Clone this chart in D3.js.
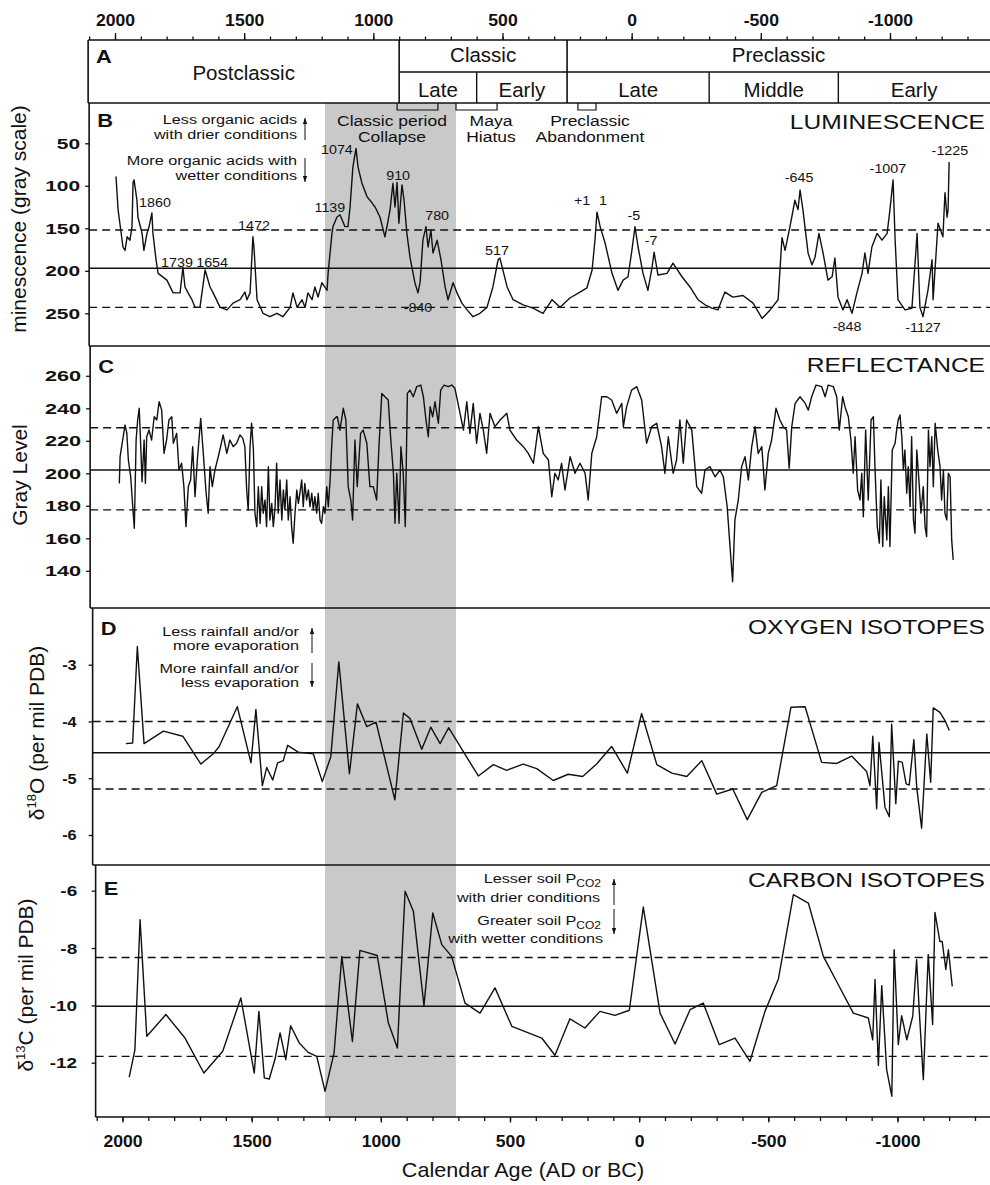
<!DOCTYPE html>
<html>
<head>
<meta charset="utf-8">
<script src="https://cdn.jsdelivr.net/npm/d3@7"></script>
<style>
body { margin: 0; background: #fff; }
svg { display: block; font-family: "Liberation Sans", Arial, sans-serif; }
text { fill: #111; }
</style>
</head>
<body>
<svg width="990" height="1185"></svg>
<script>
// ---- data: [year AD (negative = BC), value] ----
const luminescence = [[2000,89],[1992,128],[1973,172],[1965,176],[1957,160],[1946,164],[1938,148],[1934,96],[1930,93],[1919,117],[1915,137],[1899,156],[1892,176],[1880,156],[1872,148],[1861,132],[1857,156],[1845,187],[1837,203],[1803,211],[1779,226],[1752,226],[1741,196],[1733,219],[1721,226],[1706,234],[1694,243],[1675,243],[1655,199],[1636,219],[1624,226],[1597,243],[1570,246],[1547,238],[1520,234],[1501,225],[1493,234],[1481,226],[1470,160],[1466,172],[1454,234],[1431,250],[1404,254],[1377,250],[1354,254],[1326,243],[1315,226],[1299,243],[1280,234],[1268,243],[1257,226],[1241,234],[1230,219],[1218,231],[1203,214],[1183,223],[1179,203],[1164,156],[1160,148],[1145,137],[1133,134],[1114,148],[1102,148],[1094,125],[1083,78],[1071,56],[1063,78],[1048,97],[1028,113],[1009,120],[997,125],[978,137],[959,160],[951,148],[939,128],[928,97],[920,125],[912,96],[905,144],[893,99],[885,117],[874,156],[862,184],[843,214],[831,226],[823,214],[812,164],[800,148],[792,172],[781,152],[773,179],[757,164],[742,187],[726,219],[715,234],[695,214],[680,226],[661,238],[641,246],[618,254],[591,250],[564,243],[541,219],[521,187],[514,185],[486,219],[463,234],[424,240],[386,244],[347,250],[312,234],[281,243],[243,232],[204,225],[177,220],[157,199],[146,164],[138,131],[126,148],[107,167],[80,203],[57,223],[37,211],[18,207],[3,176],[-9,148],[-21,172],[-40,203],[-59,223],[-75,196],[-83,178],[-98,205],[-133,203],[-156,191],[-191,207],[-222,219],[-253,234],[-280,240],[-307,244],[-330,246],[-357,225],[-388,231],[-427,229],[-466,238],[-501,256],[-532,246],[-563,234],[-578,161],[-590,176],[-609,148],[-628,117],[-640,128],[-648,105],[-659,128],[-679,179],[-694,193],[-706,184],[-721,156],[-737,179],[-756,211],[-772,207],[-783,185],[-795,231],[-814,246],[-830,234],[-849,250],[-868,226],[-888,203],[-899,179],[-911,203],[-926,172],[-946,156],[-965,164],[-985,156],[-996,128],[-1008,93],[-1016,164],[-1027,234],[-1054,246],[-1081,244],[-1101,156],[-1112,243],[-1124,254],[-1143,223],[-1159,187],[-1163,234],[-1182,144],[-1201,160],[-1209,108],[-1217,137],[-1221,128],[-1225,72]]

const reflectance = [[1991,193.8],[1988,210.2],[1982,216.4],[1976,222.5],[1969,229.7],[1962,224.8],[1956,208.2],[1947,197.9],[1939,179.4],[1933,166.2],[1926,220.5],[1920,232.8],[1914,240],[1908,216.4],[1903,194.8],[1895,220.5],[1890,193.8],[1885,222.5],[1876,226.6],[1866,220.5],[1856,234.8],[1846,232.8],[1837,244],[1827,238.9],[1818,212.3],[1808,220.5],[1799,232.8],[1788,234.8],[1782,218.5],[1769,224.6],[1760,202],[1750,206.2],[1741,191.8],[1733,167.2],[1724,191.8],[1715,195.9],[1707,216.4],[1698,185.6],[1689,208.2],[1676,233.8],[1666,212.3],[1655,187.7],[1647,175.4],[1640,204.1],[1631,191.8],[1621,202],[1608,210.2],[1599,216.4],[1589,223.6],[1575,212.3],[1563,220.5],[1550,216.4],[1537,218.5],[1524,223.6],[1513,221.5],[1505,216.4],[1498,189.7],[1492,177.4],[1485,216.4],[1479,230.8],[1472,214.3],[1466,175.4],[1459,167.2],[1453,191.8],[1446,169.2],[1440,191.8],[1434,175.4],[1427,183.6],[1421,167.2],[1414,204.1],[1408,171.3],[1401,181.5],[1395,167.2],[1388,179.5],[1382,206.2],[1376,175.4],[1369,195.9],[1362,171.3],[1356,189.7],[1350,177.4],[1343,195.9],[1337,171.3],[1330,185.6],[1324,167.2],[1318,157],[1311,175.4],[1304,189.7],[1298,181.5],[1292,187.7],[1285,195.9],[1279,179.5],[1273,193.8],[1266,183.6],[1259,189.7],[1253,179.5],[1246,187.7],[1240,177.4],[1234,185.6],[1227,175.4],[1221,187.7],[1214,171.3],[1208,169.2],[1201,179.5],[1195,175.4],[1188,191.8],[1182,179.5],[1175,195.9],[1169,216.4],[1163,232.8],[1150,234.8],[1147,234.8],[1137,226.6],[1124,240],[1114,232.8],[1105,191.8],[1095,183.6],[1088,171.3],[1079,220.5],[1070,191.8],[1057,224.6],[1047,226.6],[1033,218.5],[1021,191.8],[1008,191.8],[995,183.6],[986,216.4],[975,249.2],[963,247.1],[950,245.1],[941,222.5],[930,200],[924,169.2],[917,200],[908,169.2],[901,216.4],[892,200],[884,167.2],[876,249.2],[866,251.2],[853,247.1],[840,253.3],[824,254.3],[814,247.1],[804,232.8],[795,222.5],[788,241],[778,234.8],[769,244],[756,230.8],[747,251.2],[734,254.3],[718,253.3],[704,254.3],[692,252.3],[672,236.9],[659,226.6],[646,244],[634,224.6],[621,243],[608,218.5],[595,236.9],[582,226.6],[569,212.3],[556,236.9],[537,228.7],[517,232.8],[491,236.9],[479,226.6],[453,220.5],[427,216.4],[408,212.3],[388,206.2],[369,228.7],[350,212.3],[330,208.2],[317,185.6],[305,200],[292,195.9],[279,206.2],[266,189.7],[246,210.2],[227,200],[208,206.2],[188,200],[176,183.6],[162,212.3],[143,222.5],[124,247.1],[104,247.1],[85,245.1],[66,236.9],[46,243],[40,228.7],[27,241],[8,251.2],[-12,253.3],[-31,245.1],[-50,218.5],[-70,228.7],[-89,230.8],[-108,216.4],[-121,200],[-134,222.5],[-153,200],[-166,208.2],[-179,232.8],[-192,206.2],[-205,232.8],[-225,226.6],[-244,191.8],[-263,187.7],[-276,202],[-295,204.1],[-315,197.9],[-334,202],[-347,197.9],[-362,179.4],[-373,154.9],[-383,133.3],[-392,171.3],[-405,183.6],[-418,204.1],[-431,210.2],[-444,195.9],[-457,216.4],[-470,228.7],[-482,212.3],[-496,216.4],[-508,189.7],[-521,212.3],[-534,220.5],[-551,240],[-566,232.8],[-579,228.7],[-592,226.6],[-602,203.2],[-612,228.7],[-625,243],[-644,247.1],[-664,243],[-676,238.9],[-689,247.1],[-706,254.3],[-728,253.3],[-741,247.1],[-753,254.3],[-773,253.3],[-786,247.1],[-796,226.6],[-809,247.1],[-818,241],[-831,234.8],[-841,220.5],[-850,200],[-857,222.5],[-867,189.7],[-876,183.6],[-883,200],[-889,173.3],[-898,226.6],[-908,183.6],[-919,232.8],[-928,234.8],[-934,204.1],[-943,167.2],[-951,157],[-957,195.9],[-964,154.9],[-970,185.6],[-980,159],[-986,191.8],[-992,154.9],[-1001,214.3],[-1012,218.5],[-1018,226.6],[-1024,232.8],[-1031,235.9],[-1038,222.5],[-1044,202],[-1050,214.3],[-1057,187.7],[-1063,204.1],[-1070,179.5],[-1076,222.5],[-1083,171.3],[-1089,163.1],[-1096,214.3],[-1105,193.8],[-1112,175.4],[-1121,191.8],[-1128,167.2],[-1134,161],[-1141,226.6],[-1147,204.1],[-1154,222.5],[-1160,191.8],[-1167,230.8],[-1177,214.3],[-1186,204.1],[-1192,183.6],[-1199,202],[-1205,175.4],[-1212,171.3],[-1218,200],[-1225,197.9],[-1231,159],[-1237,146.7]]

const oxygen = [[1975,-4.39],[1949,-4.38],[1931,-2.68],[1905,-4.39],[1830,-4.17],[1755,-4.26],[1685,-4.75],[1637,-4.57],[1614,-4.44],[1544,-3.74],[1491,-4.73],[1472,-3.79],[1447,-5.13],[1430,-4.81],[1407,-5.03],[1388,-4.73],[1366,-4.69],[1349,-4.42],[1308,-4.54],[1250,-4.57],[1215,-5.06],[1182,-4.62],[1151,-2.95],[1110,-4.92],[1079,-3.69],[1043,-4.09],[1007,-4.01],[934,-5.38],[901,-3.85],[875,-3.95],[830,-4.49],[795,-4.10],[759,-4.39],[726,-4.11],[611,-4.96],[553,-4.76],[501,-4.86],[437,-4.75],[385,-4.83],[321,-5.04],[263,-4.93],[207,-4.97],[153,-4.75],[95,-4.44],[34,-4.91],[-21,-3.86],[-80,-4.76],[-138,-4.91],[-196,-4.97],[-254,-4.69],[-312,-5.28],[-374,-5.19],[-430,-5.73],[-486,-5.25],[-544,-5.13],[-599,-3.75],[-654,-3.74],[-718,-4.72],[-776,-4.74],[-834,-4.61],[-892,-4.88],[-905,-5.13],[-916,-4.26],[-931,-5.54],[-940,-4.37],[-963,-5.51],[-980,-5.68],[-989,-4.05],[-1005,-5.45],[-1015,-4.70],[-1030,-4.72],[-1045,-5.10],[-1057,-5.12],[-1075,-4.32],[-1086,-5.16],[-1105,-5.88],[-1125,-4.22],[-1140,-5.07],[-1150,-3.76],[-1176,-3.84],[-1195,-3.98],[-1212,-4.16]]

const carbon = [[1974,-12.50],[1952,-11.55],[1932,-7.01],[1906,-11.08],[1832,-10.32],[1758,-11.14],[1685,-12.36],[1612,-11.60],[1542,-9.74],[1490,-12.36],[1472,-10.21],[1451,-12.53],[1432,-12.57],[1410,-11.89],[1390,-10.96],[1368,-11.89],[1349,-10.71],[1316,-11.31],[1281,-11.64],[1248,-11.78],[1216,-13.00],[1181,-11.66],[1151,-8.29],[1110,-11.26],[1081,-8.08],[1014,-8.26],[971,-10.61],[936,-11.49],[906,-6.02],[874,-6.72],[833,-10.01],[799,-6.78],[764,-7.88],[726,-8.29],[674,-9.92],[616,-10.27],[558,-9.39],[493,-10.73],[377,-11.14],[326,-11.74],[268,-10.47],[210,-10.79],[152,-10.21],[94,-10.35],[38,-10.17],[-16,-6.57],[-81,-10.27],[-139,-11.35],[-197,-10.15],[-248,-9.92],[-310,-11.37],[-371,-11.14],[-429,-11.95],[-487,-10.21],[-539,-9.08],[-597,-6.14],[-655,-6.43],[-713,-8.29],[-771,-9.28],[-829,-10.27],[-887,-10.44],[-904,-11.20],[-913,-9.10],[-926,-12.10],[-939,-9.31],[-958,-12.24],[-978,-13.17],[-987,-8.06],[-1003,-11.37],[-1016,-10.36],[-1036,-11.20],[-1059,-10.38],[-1074,-8.41],[-1084,-10.15],[-1100,-12.59],[-1119,-8.23],[-1136,-10.67],[-1145,-6.76],[-1164,-7.77],[-1173,-7.77],[-1187,-8.75],[-1197,-8.06],[-1212,-9.34]]

// mean (solid) and mean +/- 1 sd (dashed)
const lumRefs = [197, 152, 243]
const reflRefs = [202, 228, 177.5]
const oxyRefs = [-4.55, -4.0, -5.19]
const carbRefs = [-10.03, -8.33, -11.78]

const lumTicks = [50, 100, 150, 200, 250]
const reflTicks = [260, 240, 220, 200, 180, 160, 140]
const oxyTicks = [-3, -4, -5, -6]
const carbTicks = [-6, -8, -10, -12]
const ageTicks = [2000, 1500, 1000, 500, 0, -500, -1000]
const ageMinor = d3.range(2100, -1400, -100)

const periodsUpper = [["Postclassic", 2104, 900], ["Classic", 900, 250], ["Preclassic", 250, -1387]]
const periodsLower = [["Late", 900, 600], ["Early", 600, 250], ["Late", 250, -300], ["Middle", -300, -800], ["Early", -800, -1387]]
const events = [[908, 750], [680, 521], [208, 138]]
const collapseBand = [1187, 680]

const peakLabels = [["1860",1849,125],["1739",1764,195.5],["1654",1628,195.5],["1472",1466,152],["1139",1172,131],["1074",1145,62.6],["910",908,93],["780",757,140],["-840",831,248.5],["517",525,181],["+1",196,122.6],["1",115,122.6],["-5",-5,140],["-7",-71,169.6],["-645",-644,95.5],["-1007",-988,85],["-1225",-1228,63.8],["-848",-830,271],["-1127",-1124,272]]

// ---- layout ----
const svg = d3.select("svg")
const W = 990
const xAt = off => d3.scaleLinear().domain([2000, -1000]).range([115 + off, 890 + off])
const xTop = xAt(0)
const leftYear = 2104

const label = (g, x, y, str, o = {}) => g.append("text")
    .attr("transform", "translate(" + x + "," + y + ") scale(" + (o.sx || 1) + ",1)")
    .attr("text-anchor", o.anchor || "start")
    .style("font-size", (o.size || 14) + "px")
    .style("font-weight", o.bold ? "bold" : "normal")
    .text(str)

const panels = [
    {letter: "B", off: 1, top: 103, bottom: 346, y: d3.scaleLinear().domain([50, 250]).range([143.3, 313.3]),
     ticks: lumTicks, gap: 9, sx: 1.35, data: luminescence, refs: lumRefs, title: "LUMINESCENCE", titleY: 129, letterY: 127},
    {letter: "C", off: 2, top: 346, bottom: 608, y: d3.scaleLinear().domain([260, 140]).range([375.8, 570.8]),
     ticks: reflTicks, gap: 9, sx: 1.4, data: reflectance, refs: reflRefs, title: "REFLECTANCE", titleY: 372, letterY: 373},
    {letter: "D", off: 4.5, top: 608, bottom: 865, y: d3.scaleLinear().domain([-3, -6]).range([664.7, 835]),
     ticks: oxyTicks, gap: 16, sx: 1.05, data: oxygen, refs: oxyRefs, title: "OXYGEN ISOTOPES", titleY: 634, letterY: 635},
    {letter: "E", off: 7.5, top: 865, bottom: 1117, y: d3.scaleLinear().domain([-6, -12]).range([890.7, 1062.7]),
     ticks: carbTicks, gap: 18.5, sx: 1.22, data: carbon, refs: carbRefs, title: "CARBON ISOTOPES", titleY: 887, letterY: 895}
]

// shaded collapse band
svg.append("rect")
    .attr("x", xTop(collapseBand[0]))
    .attr("width", xTop(collapseBand[1]) - xTop(collapseBand[0]))
    .attr("y", 103).attr("height", 1117 - 103)
    .attr("fill", "#c9c9c9")

// ---- top axis + panel A ----
const line = (x1, y1, x2, y2, w = 1.4, dash = null) => svg.append("line")
    .attr("x1", x1).attr("y1", y1).attr("x2", x2).attr("y2", y2)
    .attr("stroke", "#111").attr("stroke-width", w).attr("stroke-dasharray", dash)

const topMinor = svg.append("g").attr("transform", "translate(0,40)")
    .call(d3.axisTop(xTop).tickValues(ageMinor).tickSize(3.5).tickFormat(""))
const topMajor = svg.append("g").attr("transform", "translate(0,40)")
    .call(d3.axisTop(xTop).tickValues(ageTicks).tickSize(7).tickFormat(d => String(d)))
;[topMinor, topMajor].forEach(g => {
    g.select(".domain").remove()
    g.selectAll("line").attr("stroke", "#111").attr("stroke-width", 1.3)
})
topMajor.selectAll("text").attr("y", -14).attr("dy", null)
    .attr("transform", "scale(1.1,1)")
    .style("font-size", "16px").style("font-weight", "bold").attr("fill", "#111")

line(xTop(leftYear), 40, W, 40, 1.6)
line(xTop(leftYear), 103, W, 103, 1.6)
line(xTop(900), 72, W, 72, 1.4)
line(xTop(leftYear), 40, xTop(leftYear), 103, 1.6)

periodsUpper.forEach(([name, a, b], i) => {
    if (i > 0) line(xTop(a), 40, xTop(a), 103, 1.6)
    const cy = i === 0 ? 80 : 62
    label(svg, (xTop(a) + xTop(b)) / 2, cy, name, {anchor: "middle", size: 20.5})
})
periodsLower.forEach(([name, a, b], i) => {
    if (i !== 0 && i !== 2) line(xTop(a), 72, xTop(a), 103, 1.4)
    label(svg, (xTop(a) + xTop(b)) / 2, 97, name, {anchor: "middle", size: 20.5})
})
label(svg, 96, 63, "A", {size: 19, bold: true, sx: 1.15})

events.forEach(([a, b]) => {
    svg.append("path")
        .attr("d", "M" + xTop(a) + ",103V110H" + xTop(b) + "V103")
        .attr("fill", "none").attr("stroke", "#111").attr("stroke-width", 1.2)
})

// ---- data panels ----
panels.forEach(p => {
    const x = xAt(p.off)
    const left = x(leftYear)
    line(left, p.top, left, p.bottom, 1.6)
    line(left, p.bottom, W, p.bottom, 1.6)

    p.refs.forEach((v, i) => line(left, p.y(v), W, p.y(v), 1.4, i === 0 ? null : "8,5"))

    svg.append("path")
        .datum(p.data)
        .attr("d", d3.line().x(d => x(d[0])).y(d => p.y(d[1])))
        .attr("fill", "none").attr("stroke", "#111").attr("stroke-width", 1.4)
        .attr("stroke-linejoin", "round")

    const ax = svg.append("g").attr("transform", "translate(" + left + ",0)")
        .call(d3.axisLeft(p.y).tickValues(p.ticks).tickSize(4).tickFormat(d => String(d)))
    ax.select(".domain").remove()
    ax.selectAll("line").attr("stroke", "#111").attr("stroke-width", 1.3)
    ax.selectAll("text").attr("x", -p.gap / p.sx)
        .attr("transform", "scale(" + p.sx + ",1)")
        .style("font-size", "15.5px").style("font-weight", "bold").attr("fill", "#111")

    label(svg, left + 8, p.letterY, p.letter, {size: 19, bold: true, sx: 1.15})
    label(svg, 985, p.titleY, p.title, {anchor: "end", size: 21, sx: 1.17})
})

// ---- bottom axis ----
const xE = xAt(7.5)
const botMinor = svg.append("g").attr("transform", "translate(0,1117)")
    .call(d3.axisBottom(xE).tickValues(ageMinor).tickSize(4).tickFormat(""))
const botMajor = svg.append("g").attr("transform", "translate(0,1117)")
    .call(d3.axisBottom(xE).tickValues(ageTicks).tickSize(5.5).tickFormat(d => String(d)))
;[botMinor, botMajor].forEach(g => {
    g.select(".domain").remove()
    g.selectAll("line").attr("stroke", "#111").attr("stroke-width", 1.3)
})
botMajor.selectAll("text").attr("y", 30).attr("dy", null)
    .attr("transform", "scale(1.1,1)")
    .style("font-size", "16px").style("font-weight", "bold").attr("fill", "#111")
label(svg, 523, 1177, "Calendar Age (AD or BC)", {anchor: "middle", size: 20, sx: 1.08})

// ---- peak labels in B ----
const xB = xAt(1), yB = panels[0].y
peakLabels.forEach(([t, yr, v]) => label(svg, xB(yr), yB(v), t, {anchor: "middle", size: 13, sx: 1.1}))

// ---- annotations ----
const lines = (x, ys, strs, o) => strs.forEach((s, i) => label(svg, x, ys[i], s, o))
const ann = {anchor: "end", size: 13.5, sx: 1.2}
lines(297, [124, 139, 165, 180], ["Less organic acids", "with drier conditions", "More organic acids with", "wetter conditions"], ann)
lines(299, [636, 650, 673, 687], ["Less rainfall and/or", "more evaporation", "More rainfall and/or", "less evaporation"], ann)
lines(392, [126, 142], ["Classic period", "Collapse"], {anchor: "middle", size: 15.5, sx: 1.13})
lines(491, [126, 142], ["Maya", "Hiatus"], {anchor: "middle", size: 15.5, sx: 1.13})
lines(590, [126, 142], ["Preclassic", "Abandonment"], {anchor: "middle", size: 15.5, sx: 1.13})

const sub = (x, y, main, subTxt) => {
    const t = label(svg, x, y, main, ann)
    t.append("tspan").attr("dy", 4).style("font-size", "10px").text(subTxt)
}
sub(601, 883, "Lesser soil P", "CO2")
label(svg, 600, 902, "with drier conditions", ann)
sub(601, 925, "Greater soil P", "CO2")
label(svg, 603, 943, "with wetter conditions", ann)

const arrow = (x, y1, y2) => {
    line(x, y1, x, y2, 1)
    const s = y2 < y1 ? 1 : -1
    svg.append("path")
        .attr("d", "M" + (x - 2.2) + "," + (y2 + 6 * s) + "L" + x + "," + y2 + "L" + (x + 2.2) + "," + (y2 + 6 * s) + "Z")
        .attr("fill", "#111")
}
arrow(305, 140, 118); arrow(305, 158, 182)
arrow(312, 653, 628); arrow(312, 663, 687)
arrow(614, 905, 879); arrow(614, 909, 934)

// ---- y-axis titles ----
const vtitle = (x, y, build) => {
    const t = svg.append("text")
        .attr("transform", "translate(" + x + "," + y + ") rotate(-90)")
        .attr("text-anchor", "middle").style("font-size", "21px")
    build(t)
}
vtitle(26, 219, t => t.text("minescence (gray scale)"))
vtitle(27, 475, t => t.text("Gray Level"))
vtitle(44, 733, t => {
    t.append("tspan").text("δ")
    t.append("tspan").attr("dy", -8).style("font-size", "13px").text("18")
    t.append("tspan").attr("dy", 8).text("O (per mil PDB)")
})
vtitle(33, 985, t => {
    t.append("tspan").text("δ")
    t.append("tspan").attr("dy", -8).style("font-size", "13px").text("13")
    t.append("tspan").attr("dy", 8).text("C (per mil PDB)")
})
</script>
</body>
</html>
